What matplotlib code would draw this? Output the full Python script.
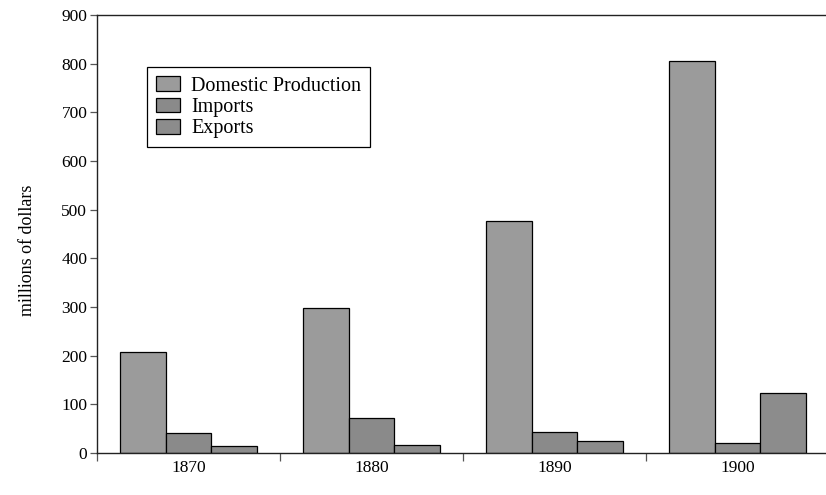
import numpy as np
import matplotlib
matplotlib.use('Agg')
from matplotlib import pyplot as plt

# values
years = ['1870', '1880', '1890', '1900']
domestic = [207, 298, 477, 805]
imports = [41, 72, 43, 21]
exports = [14, 16, 25, 123]
series_names = ['Domestic Production', 'Imports', 'Exports']
colors = ['#9b9b9b', '#8a8a8a', '#8c8c8c']

plt.rcParams['font.family'] = ['Liberation Serif', 'DejaVu Serif']
plt.rcParams['font.size'] = 12.5

fig = plt.figure(figsize=(8.26, 4.95), dpi=100)
ax = fig.add_axes([97/826, 42/495, 732/826, 438/495])

index = np.arange(len(years)) + 0.5
bar_width = 0.251
for k, (vals, name) in enumerate(zip([domestic, imports, exports], series_names)):
    ax.bar(index + (k - 1) * bar_width, vals, bar_width, color=colors[k],
           edgecolor='black', linewidth=0.9, label=name)

ax.set_xlim(0, len(years))
ax.set_ylim(0, 900)
ax.set_yticks(np.arange(0, 901, 100))
ax.set_xticks(np.arange(len(years) + 1))
ax.set_xticklabels([])
ax.set_xticks(index, minor=True)
ax.set_xticklabels(years, minor=True)
ax.tick_params(axis='x', which='major', length=6, width=0.9, color='#555555', direction='out')
ax.tick_params(axis='x', which='minor', length=0, pad=5)
ax.tick_params(axis='y', length=5, width=0.9, color='#555555', direction='out', pad=2)

ax.spines['right'].set_visible(False)
for s in ['left', 'bottom', 'top']:
    ax.spines[s].set_linewidth(1.0)
    ax.spines[s].set_color('#222222')

ax.set_ylabel('millions of dollars', fontsize=13)
ax.yaxis.set_label_coords(-0.083, 0.463)

leg = ax.legend(loc='upper left', bbox_to_anchor=(0.068, 0.881), borderaxespad=0,
                fancybox=False, shadow=False, framealpha=1, edgecolor='black',
                handlelength=1.2, handleheight=0.75, handletextpad=0.55,
                labelspacing=0.1, borderpad=0.45, fontsize=14.5)
leg.get_frame().set_linewidth(0.9)

plt.savefig('out.png', dpi=100)
